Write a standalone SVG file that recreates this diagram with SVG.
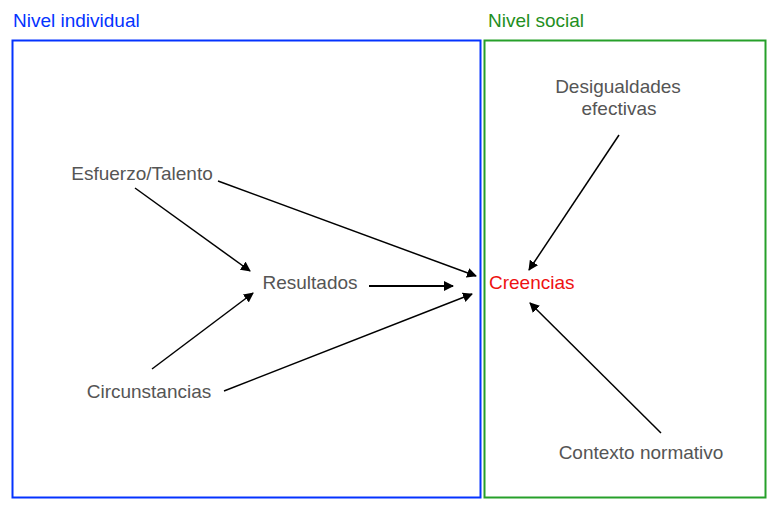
<svg xmlns="http://www.w3.org/2000/svg" width="777" height="518" viewBox="0 0 777 518">
<defs>
<marker id="ah" viewBox="0 0 10 10" refX="9" refY="5" markerWidth="10" markerHeight="10" markerUnits="userSpaceOnUse" orient="auto">
<path d="M0,0 L10,5 L0,10 z" fill="#000"/>
</marker>
<style>
text{font-family:"Liberation Sans",Arial,sans-serif;font-size:19px;}
.n{fill:#555;text-anchor:middle;}
.c line{stroke:#000;stroke-width:1.5;marker-end:url(#ah);}
.c line.thick{stroke-width:2;}
</style>
</defs>
<rect width="777" height="518" fill="#fff"/>
<g id="individual">
<rect x="12.5" y="40.5" width="468" height="457" fill="none" stroke="#0433ff" stroke-width="2"/>
<text x="13" y="27" fill="#0433ff">Nivel individual</text>
</g>
<g id="social">
<rect x="484.5" y="40.5" width="281" height="457" fill="none" stroke="#26a02a" stroke-width="2"/>
<text x="488" y="27" fill="#1f8f22">Nivel social</text>
</g>
<g id="esfuerzo"><text class="n" x="142" y="180">Esfuerzo/Talento</text></g>
<g id="resultados"><text class="n" x="310" y="289">Resultados</text></g>
<g id="circunstancias"><text class="n" x="149" y="398">Circunstancias</text></g>
<g id="creencias"><text x="489" y="289" fill="#ee1111">Creencias</text></g>
<g id="desigualdades"><text class="n" x="618" y="93">Desigualdades</text><text class="n" x="619" y="115">efectivas</text></g>
<g id="contexto"><text class="n" x="641" y="459">Contexto normativo</text></g>
<g class="c" id="connectors">
<line x1="135" y1="188" x2="250" y2="271"/>
<line x1="152" y1="369" x2="253" y2="293"/>
<line class="thick" x1="369" y1="286" x2="453" y2="286"/>
<line x1="218" y1="181" x2="476" y2="276"/>
<line x1="224" y1="391" x2="472" y2="294"/>
<line x1="619" y1="135" x2="529" y2="270"/>
<line x1="661" y1="433" x2="530" y2="303"/>
</g>
</svg>
